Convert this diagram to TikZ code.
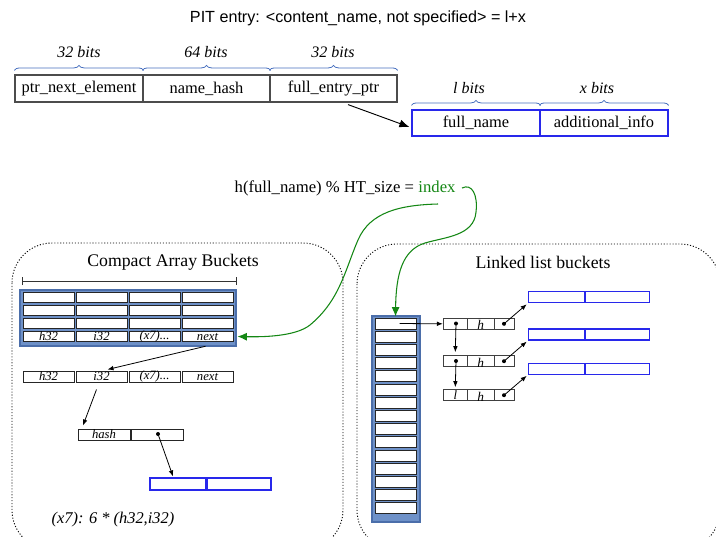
\documentclass[tikz,border=0pt]{standalone}
\usepackage{fontspec}
\setmainfont{Liberation Serif}
\newfontfamily\sansfam{Liberation Sans}
\usetikzlibrary{arrows.meta,decorations.pathreplacing,calc}
\definecolor{bluebox}{RGB}{40,40,235}
\definecolor{bracec}{RGB}{70,110,190}
\definecolor{steel}{RGB}{110,145,200}
\definecolor{steeld}{RGB}{75,110,170}
\definecolor{gr}{RGB}{20,135,20}
\begin{document}
\begin{tikzpicture}[x=0.75pt,y=-0.75pt,
  every node/.style={inner sep=0pt},
  cell/.style 2 args={draw=black!85,line width=0.75pt,fill=white,minimum width=#1*0.75pt,minimum height=#2*0.75pt},
  rec/.style 2 args={draw=black!70,line width=0.9pt,fill=white,minimum width=#1*0.75pt,minimum height=#2*0.75pt,font=\fontsize{12.3}{14}\selectfont},
  bbox/.style 2 args={draw=bluebox,line width=0.9pt,fill=white,minimum width=#1*0.75pt,minimum height=#2*0.75pt,font=\fontsize{12.3}{14}\selectfont},
  lcell/.style 2 args={draw=black!75,line width=0.75pt,fill=white,minimum width=#1*0.75pt,minimum height=#2*0.75pt},
  brc/.style={decorate,decoration={brace,amplitude=3.75pt},draw=bracec,line width=0.6pt},
  bitlab/.style={font=\fontsize{12}{14}\selectfont\itshape},
  lab/.style={font=\fontsize{9.5}{11}\selectfont\itshape},
  hlab/.style={font=\fontsize{10}{11}\selectfont\itshape},
  dot/.style={circle,fill=black,minimum size=3pt},
  sarr/.style={-{Latex[length=4.5pt,width=3.5pt]},line width=0.6pt},
  barr/.style={-{Latex[length=7.5pt,width=6pt]},line width=0.7pt},
  garr/.style={-{Latex[length=7pt,width=6pt]},draw=gr,line width=0.8pt},
  frame/.style={dash pattern=on 0.8pt off 1.4pt,line width=0.7pt,rounded corners=30pt},
  sect/.style={font=\fontsize{13.3}{15}\selectfont},
]
\useasboundingbox (0,0) rectangle (716,536);
\clip (0,0) rectangle (716,536);

% ---- title
\node[font=\sansfam\fontsize{12.1}{14}\selectfont] (title) at (358,18) {PIT entry: <content\_name, not specified> = l+x};

% ---- top record
\node[rec={128}{27}] (a1) at (79,88.5) {ptr\_next\_element};
\node[rec={127}{27}] (a2) at (206.5,88.5) {name\_hash};
\node[rec={127}{27}] (a3) at (333.5,88.5) {full\_entry\_ptr};
\draw[brc] ([yshift=3pt]a1.north west) -- ([yshift=3pt]a1.north east);
\draw[brc] ([yshift=3pt]a2.north west) -- ([yshift=3pt]a2.north east);
\draw[brc] ([yshift=3pt]a3.north west) -- ([yshift=3pt]a3.north east);
\node[bitlab] (ba1) at (79,52) {32 bits};
\node[bitlab] (ba2) at (206,52) {64 bits};
\node[bitlab] (ba3) at (333,52) {32 bits};

\node[bbox={128}{26}] (b1) at (476,123) {full\_name};
\node[bbox={128}{26}] (b2) at (604,123) {additional\_info};
\draw[brc] ([yshift=3pt]b1.north west) -- ([yshift=3pt]b1.north east);
\draw[brc] ([yshift=3pt]b2.north west) -- ([yshift=3pt]b2.north east);
\node[bitlab] (bb1) at (469,88) {l bits};
\node[bitlab] (bb2) at (597,88) {x bits};

\draw[barr] ($(a3.south)+(14.5,2)$) -- ($(b1.west)+(-2,4)$);

% ---- hash formula
\node[font=\fontsize{12.5}{14}\selectfont,text=gr] (idx) at (437,187) {index};
\node[font=\fontsize{12.5}{14}\selectfont,anchor=base east] (hf) at ([xshift=-3pt]idx.base west) {h(full\_name) \% HT\_size =};
\coordinate (g1) at (462,188);
\coordinate (g2) at (438,204);

% ---- frames
\draw[frame] (12,243) rectangle (343,550);
\draw[frame] (357,244) rectangle (720,550);
\node[sect] (t1) at (173,262) {Compact Array Buckets};
\node[sect] (t2) at (543,262) {Linked list buckets};

% ---- compact array
\coordinate (dl) at (22,281);
\coordinate (dr) at (237,281);
\draw[{Bar[width=6pt]}-{Bar[width=6pt]},line width=0.7pt,black!80] (dl) -- (dr);
\node[draw=steeld,fill=steel,line width=0.8pt,minimum width=216*0.75pt,minimum height=56*0.75pt] (grid) at (128,318) {};
\foreach \c/\x in {1/48.5,2/101.5,3/154.5,4/207.5}{
  \foreach \r/\y in {1/297.5,2/310.5,3/323.5,4/336.5}{
    \node[cell={51}{10.5}] (c\r\c) at (\x,\y) {};
  }
  \node[cell={51}{11}] (d\c) at (\x,376.5) {};
}
\node[lab] (lc1) at (c41.center) {h32};
\node[lab] (lc2) at (c42.center) {i32};
\node[lab] (lc3) at (c43.center) {(x7)...};
\node[lab] (lc4) at (c44.center) {next};
\node[lab] (ld1) at (d1.center) {h32};
\node[lab] (ld2) at (d2.center) {i32};
\node[lab] (ld3) at (d3.center) {(x7)...};
\node[lab] (ld4) at (d4.center) {next};

\node[cell={52}{11}] (h1) at (104,434.5) {};
\node[cell={52}{11}] (h2) at (157,434.5) {};
\node[lab] (lh1) at (h1.center) {hash};
\node[dot] (h2d) at (158,434) {};

\node[bbox={56}{12}] (e1) at (178,484) {};
\node[bbox={64}{12}] (e2) at (239,484) {};

\draw[sarr] ($(c44.south)+(-2,4)$) -- ($(d2.north)+(6,-1)$);
\draw[sarr] ($(d2.south)+(-5,7)$) -- ($(h1.north)+(-21,-3)$);
\draw[sarr] (h2d.center) -- ($(e1.north)+(-5,-1)$);

\node[font=\fontsize{12.3}{14}\selectfont\itshape] (note) at (113,520) {(x7): 6 * (h32,i32)};

% ---- linked list
\node[draw=steeld,fill=steel,line width=0.8pt,minimum width=48*0.75pt,minimum height=206*0.75pt] (rcol) at (396,419) {};
\foreach \k in {1,...,15}{
  \node[cell={41}{11}] (r\k) at (395.5,{323.5+13.2*(\k-1)}) {};
}
\foreach \n/\y in {1/323.8,2/361.2,3/395.2}{
  \node[lcell={24}{11}] (l\n a) at (455.3,\y) {};
  \node[lcell={27}{11}] (l\n b) at (480.8,\y) {};
  \node[lcell={19.7}{11}] (l\n c) at (504.2,\y) {};
  \node[hlab] (lh\n) at ([yshift=-1pt]l\n b.center) {h};
  \node[dot] (l\n cd) at (504,\y) {};
}
\node[dot] (l1ad) at (456,323.5) {};
\node[dot] (l2ad) at (456,361) {};
\node[lab] (l3lab) at (l3a.center) {l};

\node[bbox={56}{11}] (f1) at (556.3,297.2) {};
\node[bbox={64}{11}] (f2) at (617.2,297.2) {};
\node[bbox={56}{11}] (f3) at (556.3,334.5) {};
\node[bbox={64}{11}] (f4) at (617.2,334.5) {};
\node[bbox={56}{11}] (f5) at (556.3,368.7) {};
\node[bbox={64}{11}] (f6) at (617.2,368.7) {};

\draw[sarr] ($(r1.center)+(4,0)$) -- (l1a.west);
\draw[sarr] (l1ad.center) -- ($(l2a.north)+(0,-3)$);
\draw[sarr] (l2ad.center) -- ($(l3a.north)+(0,-2)$);
\draw[sarr] (l1cd.center) -- ($(f1.south west)+(-1,1)$);
\draw[sarr] (l2cd.center) -- ($(f3.south west)+(-1,1)$);
\draw[sarr] (l3cd.center) -- ($(f5.south west)+(-1,1)$);

% ---- green curves
\draw[garr] (g1) .. controls (472,183) and (478,195) .. (476,212)
  .. controls (474,236) and (445,237) .. (425,243)
  .. controls (402,250) and (396,275) .. ($(r1.north)+(0,-1)$);
\draw[garr] (g2) .. controls (400,205) and (370,212) .. (358,240)
  .. controls (345,270) and (340,300) .. (310,325)
  .. controls (295,337) and (260,337) .. ($(c44.east)+(4,0)$);
\end{tikzpicture}
\end{document}
